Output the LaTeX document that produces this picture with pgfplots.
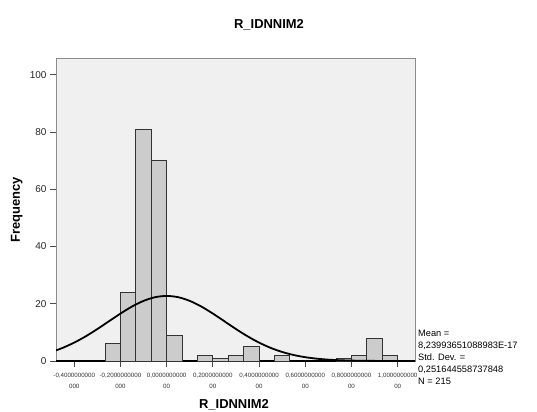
\documentclass[border=0pt]{standalone}
\usepackage{fontspec}
\setmainfont{Liberation Sans}
\usepackage{pgfplots}
\pgfplotsset{compat=1.18}
\definecolor{plotbg}{RGB}{240,240,240}
\definecolor{barfill}{RGB}{204,204,204}
\definecolor{framegray}{RGB}{140,140,140}

\begin{document}
\begin{tikzpicture}[x=1bp,y=1bp]
\useasboundingbox (0,0) rectangle (537,411);
\begin{axis}[
    at={(56bp,50bp)}, anchor=south west,
    scale only axis, width=359bp, height=302bp,
    xmin=-0.479, xmax=1.075, ymin=0, ymax=105.5,
    axis background/.style={fill=plotbg},
    axis line style={framegray, line width=1bp},
    tick align=outside, xtick pos=bottom, ytick pos=left,
    major tick length=6bp,
    tick style={black!70, line width=0.9bp},
    xtick={-0.4,-0.2,0,0.2,0.4,0.6,0.8,1.0},
    xticklabels={{-0,4000000000\\000},{-0,2000000000\\000},{0,0000000000\\00},
      {0,2000000000\\00},{0,4000000000\\00},{0,6000000000\\00},
      {0,8000000000\\00},{1,0000000000\\00}},
    xticklabel style={font=\fontsize{6.2}{10.7}\selectfont, align=center, text=black!80, yshift=-2.5bp},
    ytick={0,20,40,60,80,100},
    yticklabel style={font=\fontsize{10}{12}\selectfont, text=black!85},
    /pgf/number format/assume math mode=true,
    extra y ticks={0}, extra y tick labels={},
    extra y tick style={grid=major, major grid style={black, line width=1.3bp}},
]
\addplot[ybar, bar width=0.066667, bar shift=0pt, fill=barfill, draw=black!80, line width=0.9bp]
  coordinates {(-0.23333,6) (-0.16667,24) (-0.1,81) (-0.03333,70) (0.03333,9)
    (0.16667,2) (0.23333,1) (0.3,2) (0.36667,5) (0.5,2)
    (0.76667,1) (0.83333,2) (0.9,8) (0.96667,2)};
\addplot[black, line width=1.8bp, smooth] coordinates {
  (-0.48,3.69) (-0.45,4.59) (-0.40,6.43) (-0.35,8.64) (-0.30,11.17) (-0.25,13.88)
  (-0.20,16.57) (-0.15,19.03) (-0.10,21.00) (-0.05,22.29) (0,22.73) (0.05,22.29)
  (0.10,21.00) (0.15,19.03) (0.20,16.57) (0.25,13.88) (0.30,11.17) (0.35,8.64)
  (0.40,6.43) (0.45,4.59) (0.50,3.16) (0.55,2.09) (0.60,1.33) (0.65,0.81)
  (0.70,0.475) (0.75,0.268) (0.80,0.145) (0.85,0.076) (0.90,0.038) (0.95,0.018)
  (1.00,0.0085) (1.08,0.002)};
\end{axis}
\node[anchor=base, font=\bfseries\fontsize{13}{15}\selectfont] at (269,382.7) {R\_IDNNIM2};
\node[anchor=base, font=\bfseries\fontsize{13}{15}\selectfont] at (234,3) {R\_IDNNIM2};
\node[rotate=90, font=\bfseries\fontsize{13}{15}\selectfont] at (16.7,201) {Frequency};
\begin{scope}[every node/.style={anchor=base west, inner sep=0pt, font=\fontsize{9.3}{11}\selectfont}]
\node at (418,74.5) {Mean =};
\node at (418,62.5) {8,23993651088983E-17};
\node at (418,50.5) {Std. Dev. =};
\node at (418,38.5) {0,251644558737848};
\node at (418,26.5) {N = 215};
\end{scope}
\end{tikzpicture}
\end{document}
